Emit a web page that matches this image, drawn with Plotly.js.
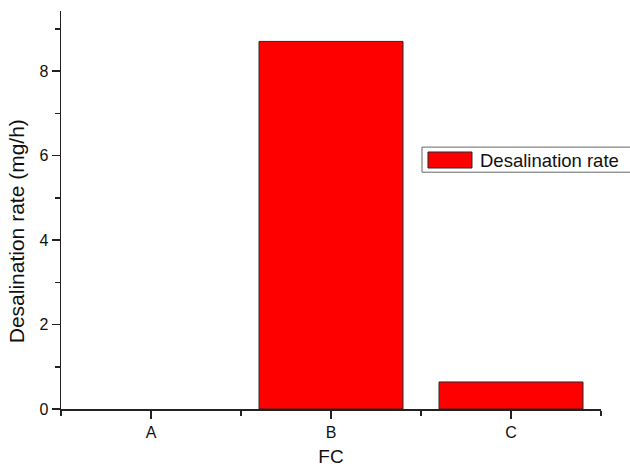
<!DOCTYPE html>
<html>
<head>
<meta charset="utf-8">
<script src="https://cdn.plot.ly/plotly-3.0.1.min.js"></script>
<style>html,body{margin:0;padding:0;background:#fff;}#chart{width:630px;height:467px;}</style>
</head>
<body>
<div id="chart"></div>
<script>
var categories = ['A', 'B', 'C'];
var positions = [0, 1, 2];
var rates = [0, 8.7, 0.64];
var seriesName = 'Desalination rate';
var xTitle = 'FC';
var yTitle = 'Desalination rate (mg/h)';

var font = 'Liberation Sans, Arial, sans-serif';

var trace = {
  type: 'bar',
  x: positions,
  y: rates,
  name: seriesName,
  width: 0.8,
  marker: {color: '#ff0000', line: {color: '#2a2a2a', width: rates.map(function (v) { return v > 0 ? 1 : 0; })}},
  showlegend: false,
  hoverinfo: 'x+y'
};

var layout = {
  width: 630, height: 467,
  margin: {l: 61, r: 29, t: 11, b: 58, pad: 0},
  paper_bgcolor: '#ffffff', plot_bgcolor: '#ffffff',
  font: {family: font, color: '#111111'},
  showlegend: false,
  xaxis: {
    range: [-0.5, 2.5],
    tickvals: positions, ticktext: categories,
    ticks: 'outside', ticklen: 8, tickwidth: 1.5, tickcolor: '#222',
    minor: {tickvals: [-0.5, 0.5, 1.5, 2.5], ticks: 'outside', ticklen: 5, tickwidth: 1.5, tickcolor: '#222'},
    showline: true, linecolor: '#222', linewidth: 1.5,
    showgrid: false, zeroline: false,
    tickfont: {size: 16, color: '#111'},
    title: {text: xTitle, font: {size: 19, color: '#111'}, standoff: 11}
  },
  yaxis: {
    range: [0, 9.42],
    tickvals: [0, 2, 4, 6, 8],
    ticks: 'outside', ticklen: 8, tickwidth: 1.5, tickcolor: '#222',
    minor: {tickvals: [1, 3, 5, 7, 9], ticks: 'outside', ticklen: 5, tickwidth: 1.5, tickcolor: '#222'},
    showline: true, linecolor: '#222', linewidth: 1.5,
    showgrid: false, zeroline: false,
    tickfont: {size: 16, color: '#111'}
  },
  shapes: [
    {type: 'rect', xref: 'paper', yref: 'paper', x0: 0.6685, x1: 1.06, y0: 0.595, y1: 0.658,
     line: {color: '#666', width: 1}, fillcolor: '#ffffff'},
    {type: 'rect', xref: 'paper', yref: 'paper', x0: 0.6796, x1: 0.7611, y0: 0.6055, y1: 0.6457,
     line: {color: '#2a2a2a', width: 1}, fillcolor: '#ff0000'}
  ],
  annotations: [
    {xref: 'paper', yref: 'paper', x: 0.772, y: 0.6256, xanchor: 'left', yanchor: 'middle',
     text: seriesName, showarrow: false, font: {size: 18.5, color: '#111'}},
    {xref: 'paper', yref: 'paper', x: -0.083, y: 0.447, xanchor: 'center', yanchor: 'middle',
     textangle: -90, text: yTitle, showarrow: false, font: {size: 21, color: '#111'}}
  ]
};

Plotly.newPlot('chart', [trace], layout, {displayModeBar: false, staticPlot: true});
</script>
</body>
</html>
